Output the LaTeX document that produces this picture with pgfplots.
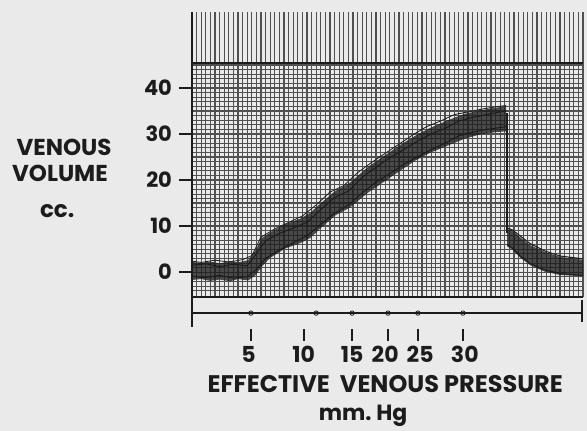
\documentclass[border=0pt]{standalone}
\usepackage{fontspec}
\setmainfont{Poppins}
\usepackage{pgfplots}
\pgfplotsset{compat=1.18}
\definecolor{paper}{HTML}{EAEAEA}
\definecolor{gridc}{HTML}{505050}
\definecolor{ink}{HTML}{1C1C1C}
\begin{document}
\begin{tikzpicture}[x=1pt,y=1pt]
\fill[paper] (-96,148.5) rectangle (197.5,-67);
\useasboundingbox (-96,148.5) rectangle (197.5,-67);
\begin{axis}[at={(0,0)}, anchor=south west, scale only axis,
  width=195.5pt, height=142.5pt,
  xmin=0, xmax=85, ymin=-5.4, ymax=56.5, clip=false,
  axis line style={draw=none},
  xtick={12.3,24.3,34.8,42.0,49.6,59.3},
  xticklabels={5,10,15,20,25,30},
  xtick style={draw=none},
  xticklabel style={yshift=-14.5pt, font=\fontsize{11}{11}\bfseries, text=ink},
  ytick={0,10,20,30,40}, ytick pos=left,
  ytick style={ink, line width=1.1pt},
  tick align=outside, major tick length=6.5pt,
  yticklabel style={font=\fontsize{10.5}{11}\bfseries, text=ink},
  /pgf/number format/assume math mode=true,
]
% grid paper
\pgfplotsinvokeforeach{0,...,85}{
  \draw[gridc, line width=0.35pt] (axis cs:#1,-5.4) -- (axis cs:#1,56.5);
}
\pgfplotsinvokeforeach{0,5,...,85}{
  \draw[gridc, line width=0.6pt] (axis cs:#1,-5.4) -- (axis cs:#1,56.5);
}
\pgfplotsinvokeforeach{-4,...,45}{
  \draw[gridc, line width=0.35pt] (axis cs:0,#1) -- (axis cs:85,#1);
}
\pgfplotsinvokeforeach{0,5,...,45}{
  \draw[gridc, line width=0.6pt] (axis cs:0,#1) -- (axis cs:85,#1);
}
\draw[ink, line width=0.9pt] (axis cs:0,45.4) -- (axis cs:85,45.4);
\draw[ink, line width=0.8pt] (axis cs:0,-5.4) -- (axis cs:85,-5.4);
% rising band
\addplot[draw=none, fill=ink, fill opacity=0.78] coordinates {
(0,2.2)(2,2.0)(4,2.3)(6,1.9)(8.3,2.4)(10,2.1)(12.2,2.6)(13.7,4.6)(15.2,7.4)(17,8.6)(20.2,10.4)(23.5,11.6)(25.7,12.9)(27.8,14.8)(31.1,17.6)(34.3,19.4)(38.3,22.9)(42,25.4)(45.2,27.6)(48.5,29.6)(51.7,31.3)(55.4,32.9)(59.3,34.4)(62.6,35.1)(65.9,35.7)(68.3,36.0)
(68.3,30.6)(65.9,30.4)(62.6,29.9)(59.3,29.0)(55.4,27.4)(51.7,25.9)(48.5,24.2)(45.2,22.0)(42,19.8)(38.3,17.3)(34.3,14.0)(31.1,12.3)(27.8,9.4)(25.7,7.4)(23.5,6.3)(20.2,5.1)(17,3.1)(15.2,1.2)(13.7,-0.8)(12.2,-1.8)(10,-1.5)(8.3,-2.0)(6,-1.6)(4,-1.9)(2,-1.5)(0,-1.7)
} -- cycle;
% decay band
\addplot[draw=none, fill=ink, fill opacity=0.78] coordinates {
(68.5,9.4)(69.6,9.0)(71.3,7.6)(73.5,5.9)(76.7,4.4)(80,3.3)(85,2.7)
(85,-0.9)(80,-0.6)(76.7,0.1)(73.5,1.5)(71.3,3.2)(69.6,4.9)(68.5,5.6)
} -- cycle;
% traces
\addplot[ink, line width=0.5pt] coordinates {
(0,1.5)(3,1.8)(6,1.2)(9,1.7)(12,1.4)(14,4.0)(16,6.8)(19,8.4)(22,9.6)(25,10.8)(28,13.6)(31,16.2)(34,17.6)(37,20.6)(40,22.8)(43,24.8)(46,26.6)(49,28.4)(52,30.0)(55,31.2)(58,32.8)(61,33.6)(64,34.2)(67,34.8)(68.3,35.0)
};
\addplot[ink, line width=0.5pt] coordinates {
(0,-0.9)(3,-1.2)(6,-0.7)(9,-1.3)(12,-1.0)(14,0.6)(16,3.0)(19,4.8)(22,6.4)(25,7.9)(28,10.4)(31,12.8)(34,14.6)(37,17.2)(40,19.6)(43,21.4)(46,23.4)(49,25.0)(52,26.6)(55,28.0)(58,29.6)(61,30.4)(64,31.0)(67,31.4)(68.3,31.6)
};
\addplot[ink, line width=0.4pt] coordinates {
(0,2.4)(2,2.1)(5,2.6)(8,2.2)(11,2.7)(13,3.6)(15,7.6)(18,9.4)(21,10.8)(24,12.2)(27,14.6)(30,17.4)(33,18.8)(36,21.6)(39,23.8)(42,25.8)(45,27.8)(48,29.8)(51,31.6)(54,32.8)(57,34.2)(60,34.8)(63,35.4)(66,35.9)(68.3,36.2)
};
\draw[ink, line width=0.9pt] (axis cs:68.4,34.5) -- (axis cs:68.4,8.6);
\addplot[ink, line width=0.5pt] coordinates {
(68.5,9.6)(69.6,9.2)(71.3,7.9)(73.5,6.2)(76.7,4.6)(80,3.5)(85,2.9)
};
\addplot[ink, line width=0.5pt] coordinates {
(68.5,6.0)(69.6,5.3)(71.3,3.6)(73.5,1.9)(76.7,0.5)(80,-0.3)(85,-0.7)
};
% lower scale line
\draw[ink, line width=0.9pt] (axis cs:0,56.5) -- (axis cs:0,-12);
\draw[ink, line width=0.8pt] (axis cs:0,-8.9) -- (axis cs:84.8,-8.9);
\draw[ink, line width=0.9pt] (axis cs:84.8,-6.1) -- (axis cs:84.8,-10.9);
\addplot[only marks, mark=o, mark size=1.1pt, ink, line width=0.4pt, mark options={fill=paper}] coordinates {
(12.8,-8.9)(27.0,-8.9)(34.8,-8.9)(42.6,-8.9)(49.1,-8.9)(58.9,-8.9)
};
\pgfplotsinvokeforeach{12.8,24.3,34.8,42.6,49.1,58.9}{
  \draw[ink, line width=1.2pt] (axis cs:#1,-12.4) -- (axis cs:#1,-15.0);
}
% labels
\node[font=\fontsize{12}{12}\bfseries, text=ink] at (axis cs:42.0,-24.4) {EFFECTIVE\ \ VENOUS\ PRESSURE};
\node[font=\fontsize{11}{11}\bfseries, text=ink] at (axis cs:37.2,-31.1) {mm.\ Hg};
\node[font=\fontsize{11.5}{12}\bfseries, text=ink] at (axis cs:-27.8,27.2) {VENOUS};
\node[font=\fontsize{11.5}{12}\bfseries, text=ink] at (axis cs:-28.7,21.5) {VOLUME};
\node[font=\fontsize{11.5}{12}\bfseries, text=ink] at (axis cs:-29.3,13.3) {cc.};
\end{axis}
\end{tikzpicture}
\end{document}
